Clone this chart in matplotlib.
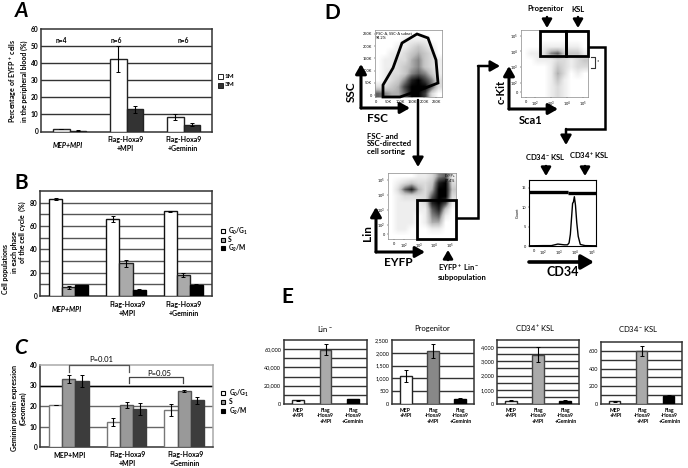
import matplotlib
matplotlib.use('Agg')
import matplotlib.pyplot as plt
from matplotlib.colors import LinearSegmentedColormap
from matplotlib.patches import Polygon, Rectangle

plt.rcParams['font.family'] = ['Lato', 'DejaVu Sans']
plt.rcParams['mathtext.default'] = 'regular'

W, H = 688, 468
groups = ['MEP+MPI', 'Flag-Hoxa9\n+MPI', 'Flag-Hoxa9\n+Geminin']
groups_e = ['MEP\n+MPI', 'Flag\n-Hoxa9\n+MPI', 'Flag\n-Hoxa9\n+Geminin']

# panel A
a_1m = [1.5, 42.5, 8.3]
a_1m_err = [0.2, 7.5, 1.7]
a_3m = [0.5, 13, 4]
a_3m_err = [0.1, 2, 0.7]
a_n = ['n=4', 'n=6', 'n=6']

# panel B
b_g0 = [83, 66, 72.5]
b_g0_err = [1, 2.5, 0.4]
b_s = [7.5, 28, 18]
b_s_err = [1.5, 3, 1.3]
b_g2 = [9.5, 5.5, 9.5]
b_g2_err = [0.1, 0.3, 0.4]

# panel C
c_g0 = [20.5, 12.2, 18.2]
c_g0_err = [0, 2, 3]
c_s = [33, 20.5, 27.5]
c_s_err = [2, 1.3, 0.5]
c_g2 = [32.2, 18.7, 22.7]
c_g2_err = [3, 3, 1.8]

# panel E
lin_vals = [4000, 59500, 5000]
lin_err = [300, 6000, 500]
prog_vals = [1080, 2060, 190]
prog_err = [240, 280, 30]
cd34p_vals = [230, 3480, 200]
cd34p_err = [40, 500, 50]
cd34n_vals = [30, 600, 95]
cd34n_err = [5, 60, 4]

# flow plots, darkness 0-9 (top row first)
fsc_density = [
    [0, 0, 0, 0, 0, 0, 0, 0, 0, 0],
    [0, 0, 0, 0, 1, 1, 1, 1, 0, 0],
    [0, 0, 0, 1, 1, 2, 3, 2, 1, 0],
    [0, 0, 1, 1, 2, 3, 4, 3, 2, 0],
    [0, 1, 1, 2, 2, 4, 5, 3, 2, 1],
    [0, 1, 1, 2, 3, 4, 5, 3, 2, 1],
    [0, 1, 2, 2, 3, 5, 6, 5, 3, 1],
    [0, 1, 2, 3, 5, 8, 9, 7, 5, 2],
    [2, 2, 3, 4, 7, 9, 9, 9, 6, 2],
    [6, 5, 4, 4, 6, 9, 9, 7, 2, 0],
]
lin_density = [
    [0, 0, 0, 0, 1, 1, 2, 5, 6, 1],
    [0, 1, 2, 3, 2, 2, 3, 8, 9, 2],
    [0, 2, 6, 8, 4, 2, 4, 9, 9, 3],
    [0, 1, 2, 2, 2, 2, 6, 9, 9, 2],
    [0, 1, 1, 1, 1, 2, 8, 9, 7, 1],
    [0, 1, 1, 1, 1, 1, 6, 8, 3, 0],
    [0, 1, 1, 1, 0, 1, 5, 6, 1, 0],
    [0, 1, 1, 1, 0, 1, 4, 4, 0, 0],
    [0, 1, 1, 0, 0, 0, 1, 1, 0, 0],
    [0, 0, 0, 0, 0, 0, 0, 0, 0, 0],
]
sca_density = [
    [0, 0, 0, 0, 0, 0, 0, 0, 0, 0],
    [0, 0, 0, 0, 0, 0, 0, 0, 0, 0],
    [0, 0, 0, 1, 1, 1, 1, 1, 1, 0],
    [0, 1, 1, 2, 5, 6, 3, 3, 3, 1],
    [0, 0, 1, 1, 1, 2, 2, 1, 2, 3],
    [0, 0, 0, 0, 1, 3, 2, 1, 2, 2],
    [0, 0, 0, 0, 1, 4, 2, 0, 1, 0],
    [0, 0, 0, 0, 1, 3, 1, 0, 0, 0],
    [0, 0, 0, 0, 1, 2, 1, 0, 0, 0],
    [0, 0, 0, 0, 1, 2, 1, 0, 0, 0],
]
hist_x = [1.1, 2, 2.5, 2.9, 3.1, 3.3, 3.5, 3.6, 3.68, 3.75, 3.82, 3.87, 3.93, 4.0, 4.08, 4.17, 4.3, 4.6, 5.28]
hist_y = [0.05, 0.1, 0.1, 0.5, 0.4, 0.3, 0.3, 0.8, 3, 7, 11, 11.3, 12.7, 10.5, 6, 2.5, 0.4, 0.1, 0.05]
gate_fsc = [(383, 85), (393, 68), (402, 43), (417, 34), (428, 38), (436, 60), (438, 83),
            (420, 90), (400, 97), (383, 97)]

flow_cmap = LinearSegmentedColormap.from_list(
    'flow', [(0, 'white'), (0.15, '#e8e8e8'), (0.4, '#bcbcbc'), (0.7, '#555555'), (1, 'black')])

fig = plt.figure(figsize=(W / 100, H / 100), dpi=100)


def px_axes(x0, y0, x1, y1):
    return fig.add_axes([x0 / W, 1 - y1 / H, (x1 - x0) / W, (y1 - y0) / H])


def bar_panel(box, ymax, step, ticks, ticklabels, series, width, grid='#333333', fs=4.8, weight='bold'):
    ax = px_axes(*box)
    ax.set_axisbelow(True)
    n = len(series)
    for i, (vals, errs, col, edge) in enumerate(series):
        xs = [g + (i - (n - 1) / 2) * width for g in range(3)]
        ax.bar(xs, vals, width, color=col, edgecolor=edge, linewidth=1.0, zorder=3)
        ax.errorbar(xs, vals, yerr=errs, fmt='none', ecolor='black', elinewidth=0.8,
                    capsize=1.3, capthick=0.7, zorder=4)
    y = step
    while y < ymax:
        ax.axhline(y, color=grid, lw=1.0, zorder=1)
        y += step
    ax.set_xlim(-0.5, 2.5)
    ax.set_ylim(0, ymax)
    ax.set_xticks([])
    ax.set_yticks(ticks)
    ax.set_yticklabels(ticklabels, fontsize=fs, fontweight=weight)
    ax.tick_params(axis='y', length=0, pad=2)
    for s in ax.spines.values():
        s.set_linewidth(1.1)
        s.set_color('#333333')
    return ax


A = [(a_1m, a_1m_err, 'white', '#222222'), (a_3m, a_3m_err, '#333333', '#222222')]
ax_a = bar_panel((41, 29, 212, 131.5), 60, 10, range(0, 61, 10), [str(v) for v in range(0, 61, 10)], A, 0.295)
for i, t in enumerate(a_n):
    ax_a.text(i + [-0.15, -0.17, 0][i], 53.5, t, fontsize=4.8, ha='center', va='center', fontweight='bold', zorder=2)

B = [(b_g0, b_g0_err, 'white', '#111111'), (b_s, b_s_err, '#aaaaaa', '#222222'), (b_g2, b_g2_err, 'black', 'black')]
bar_panel((40, 191, 212, 296), 90, 10, range(0, 81, 20), [str(v) for v in range(0, 81, 20)], B, 0.228, grid='#555555')

C = [(c_g0, c_g0_err, 'white', '#777777'), (c_s, c_s_err, '#999999', '#555555'), (c_g2, c_g2_err, '#3c3c3c', '#3c3c3c')]
ax_c = bar_panel((40, 365, 213, 447), 40, 10, range(0, 41, 10), [str(v) for v in range(0, 41, 10)], C, 0.228, grid='#666666')
ax_c.axhline(30, color='black', lw=1.0, zorder=1)
ax_c.spines['top'].set_color('#aaaaaa')
ax_c.spines['right'].set_color('#aaaaaa')

lin_ax = bar_panel((284, 340, 367, 404), 70000, 10000, [0, 20000, 40000, 60000], ['0', '20,000', '40,000', '60,000'],
                   [(lin_vals, lin_err, None, None)], 0.43, fs=4, weight='normal')
prog_ax = bar_panel((392, 340, 474, 404), 2500, 500, range(0, 2501, 500), ['0', '500', '1,000', '1,500', '2,000', '2,500'],
                    [(prog_vals, prog_err, None, None)], 0.43, fs=4, weight='normal')
cdp_ax = bar_panel((497, 340, 579, 404), 4500, 500, range(0, 4001, 1000), ['0', '1,000', '2,000', '3,000', '4,000'],
                   [(cd34p_vals, cd34p_err, None, None)], 0.43, fs=4, weight='normal')
cdn_ax = bar_panel((601, 342, 682, 404), 700, 100, range(0, 601, 200), ['0', '200', '400', '600'],
                   [(cd34n_vals, cd34n_err, None, None)], 0.43, fs=4, weight='normal')
for ax, mid in [(lin_ax, '#aaaaaa'), (prog_ax, '#888888'), (cdp_ax, '#aaaaaa'), (cdn_ax, '#aaaaaa')]:
    bars = ax.containers[0]
    for b, col, ec in zip(bars, ['white', mid, 'black'], ['#222222', '#444444', 'black']):
        b.set_facecolor(col)
        b.set_edgecolor(ec)


def flow_axes(box, dens, ext, xt, xl, yt, yl):
    ax = px_axes(*box)
    ax.imshow(dens, cmap=flow_cmap, vmin=0, vmax=9, extent=ext, aspect='auto', interpolation='bilinear')
    ax.set_xticks(xt)
    ax.set_xticklabels(xl, fontsize=2.8)
    ax.set_yticks(yt)
    ax.set_yticklabels(yl, fontsize=2.8)
    ax.tick_params(length=1, width=0.3, pad=1)
    for s in ax.spines.values():
        s.set_linewidth(0.5)
        s.set_color('#888888')
    return ax


k_t = [0, 50, 100, 150, 200, 250]
k_l = ['0', '50K', '100K', '150K', '200K', '250K']
log_t = [1.4, 2, 3, 4, 5]
log_l = ['0', '$10^2$', '$10^3$', '$10^4$', '$10^5$']
ax_fsc = flow_axes((375, 30, 442, 97), fsc_density, (-3, 273, -7, 265), k_t, k_l, k_t, k_l)
ax_fsc.text(2, 258, 'FSC-A, SSC-A subset\n94.2%', fontsize=2.8, va='top')
ax_lin = flow_axes((388, 173, 456, 239), lin_density, (0.98, 5.41, 1.1, 5.43), log_t, log_l, log_t, log_l)
ax_lin.text(4.65, 5.35, 'EYFP+\n87.4%', fontsize=2.6, va='top')
flow_axes((521, 30, 588, 97), sca_density, (1.08, 5.34, 1.1, 5.37), log_t, log_l, log_t, log_l)

ax_h = px_axes(529, 180, 596, 246)
ax_h.plot(hist_x, hist_y, color='black', lw=1.0)
ax_h.plot([1.1, 3.55], [14, 14], color='black', lw=2.4, solid_capstyle='butt')
ax_h.plot([3.55, 5.28], [13.7, 13.7], color='black', lw=2.4, solid_capstyle='butt')
ax_h.set_xlim(1.1, 5.28)
ax_h.set_ylim(0, 17)
ax_h.set_xticks(log_t)
ax_h.set_xticklabels(log_l, fontsize=2.8)
ax_h.set_yticks([0, 5, 10, 15])
ax_h.set_yticklabels(['0', '5', '10', '15'], fontsize=2.8)
ax_h.set_ylabel('Count', fontsize=2.8, labelpad=1)
ax_h.tick_params(length=1, width=0.3, pad=1)
for s in ax_h.spines.values():
    s.set_linewidth(0.8)

# overlay in pixel coordinates for text, gates and arrows
ov = fig.add_axes([0, 0, 1, 1], zorder=10)
ov.set_xlim(0, W)
ov.set_ylim(H, 0)
ov.axis('off')
ov.patch.set_alpha(0)


def txt(x, y, s, size=4.8, ha='center', va='center', **kw):
    ov.text(x, y, s, fontsize=size, ha=ha, va=va, **kw)


def path(points, lw=2.2, head=4.5, color='black'):
    xs = [p[0] for p in points]
    ys = [p[1] for p in points]
    ov.plot(xs[:-1], ys[:-1], color=color, lw=lw, solid_joinstyle='miter', solid_capstyle='butt')
    x0, y0 = points[-2]
    x1, y1 = points[-1]
    ov.annotate('', xy=(x1, y1), xytext=(x0, y0),
                arrowprops=dict(arrowstyle='-|>,head_length=%.2f,head_width=%.2f' % (head / 8, head / 14),
                                color=color, lw=lw, shrinkA=0, shrinkB=0, mutation_scale=10))


for x, y, s, style in [(22, 11, 'A', 'italic'), (21, 183, 'B', 'normal'), (21, 348, 'C', 'italic'),
                       (332, 13, 'D', 'normal'), (287, 297, 'E', 'normal')]:
    txt(x, y, s, size=15, fontweight='bold', style=style)

# group labels
txt(68, 145, groups[0], size=5, fontweight='bold', style='italic')
txt(125, 144, groups[1], size=5, fontweight='bold')
txt(183, 144, groups[2], size=5, fontweight='bold')
txt(67, 310, groups[0], size=5, fontweight='bold', style='italic')
txt(127, 309, groups[1], size=5, fontweight='bold')
txt(184, 309, groups[2], size=5, fontweight='bold')
txt(70, 456, groups[0], size=5, fontweight='bold')
txt(127, 459, groups[1], size=5, fontweight='bold')
txt(185, 459, groups[2], size=5, fontweight='bold')

# y labels
txt(18, 81, 'Percentage of EYFP$^+$ cells\nin the peripheral blood (%)', size=5, rotation=90, fontweight='bold')
txt(6, 269, 'Cell populations', size=5, rotation=90, fontweight='bold')
txt(14, 252, 'in each phase', size=5, rotation=90, fontweight='bold')
txt(22, 232, 'of the cell cycle  (%)', size=5, rotation=90, fontweight='bold')
txt(19, 408, 'Geminin protein expression\n(Geomean)', size=5, rotation=90, fontweight='bold')

# legends
for y, col, lab in [(76, 'white', '1M'), (85, '#333333', '3M')]:
    ov.add_patch(Rectangle((217.5, y - 2.5), 5, 5, fc=col, ec='#222222', lw=0.7))
    txt(225, y, lab, size=4.6, ha='left', fontweight='bold')
phases = ['$G_0/G_1$', 'S', '$G_2/M$']
for y, col, lab in zip([231, 240, 248], ['white', '#aaaaaa', 'black'], phases):
    ov.add_patch(Rectangle((221, y - 2), 3.5, 4, fc=col, ec='black', lw=0.8))
    txt(228, y, lab, size=4.8, ha='left', fontweight='bold')
for y, col, lab in zip([393, 402, 411], ['white', '#999999', 'black'], phases):
    ov.add_patch(Rectangle((221, y - 2), 3.5, 4, fc=col, ec='black', lw=0.8))
    txt(229, y, lab, size=4.8, ha='left', fontweight='bold')

# significance brackets
ov.plot([69, 69, 129, 129], [372, 365, 365, 372], color='#555555', lw=0.9)
ov.plot([129, 129, 183, 183], [383, 377, 377, 383], color='#444444', lw=0.9)
txt(101, 359, 'P=0.01', size=5.5)
txt(159, 373, 'P=0.05', size=5.5)

# panel E
for cx, t in [(325, 'Lin$^-$'), (432, 'Progenitor'), (535, 'CD34$^+$KSL'), (638, 'CD34$^-$KSL')]:
    txt(cx, 329, t, size=5.5)
for x0, sp in [(298, 27.5), (405.5, 27.5), (511, 27.3), (615.5, 27)]:
    for i, lab in enumerate(groups_e):
        txt(x0 + i * sp, 408, lab, size=3.7, va='top', fontweight='bold', linespacing=1.1)

# panel D text
txt(378, 118, 'FSC', size=8.5, fontweight='bold')
txt(351, 92, 'SSC', size=8.5, rotation=90, fontweight='bold')
txt(367, 144, 'FSC- and\nSSC-directed\ncell sorting', size=5.6, ha='left', fontweight='bold', linespacing=1.15)
txt(367, 233, 'Lin', size=8.5, rotation=90, fontweight='bold')
txt(398, 262, 'EYFP', size=8.5, fontweight='bold')
txt(438, 272, 'EYFP$^+$ Lin$^-$\nsubpopulation', size=5.5, ha='left', fontweight='bold', linespacing=1.2)
txt(546, 9, 'Progenitor', size=5.5, fontweight='bold')
txt(578, 9, 'KSL', size=5.5, fontweight='bold')
txt(501, 92, 'c-Kit', size=8, rotation=90, fontweight='bold')
txt(531, 120, 'Sca1', size=8, fontweight='bold')
txt(545, 157, 'CD34$^-$KSL', size=5.5, fontweight='bold')
txt(589, 156, 'CD34$^+$KSL', size=5.5, fontweight='bold')
txt(563, 272, 'CD34', size=9, fontweight='bold')

# gates
ov.add_patch(Polygon(gate_fsc, closed=True, fc='none', ec='black', lw=2))
ov.add_patch(Rectangle((417, 200), 39, 39, fc='none', ec='black', lw=2))
ov.add_patch(Rectangle((540, 31), 26, 25, fc='none', ec='black', lw=2))
ov.add_patch(Rectangle((566, 31), 22, 25, fc='none', ec='black', lw=2))
ov.plot([591, 595, 595, 591], [57, 57, 68, 68], color='#333333', lw=0.8)
txt(597.5, 62, '*', size=4)

# axis arrows
path([(361, 108), (361, 64)])
path([(361, 108), (410, 108)])
path([(376, 252), (376, 207)])
path([(376, 252), (425, 252)])
path([(509, 109), (509, 66)])
path([(509, 109), (558, 109)])
path([(529, 262), (594, 262)], lw=2.6, head=6)
# flow arrows
path([(418, 100), (418, 167)], lw=1.8)
path([(456, 218), (478, 218), (478, 66), (500, 66)], lw=1.8)
path([(588, 47), (605, 47), (605, 129), (566, 129), (566, 145)], lw=1.8)
# short arrows
for x, y0, y1 in [(547, 17, 28), (578, 17, 28), (546, 166, 176), (585, 166, 176), (448, 260, 250)]:
    path([(x, y0), (x, y1)], lw=1.8, head=4)

fig.savefig('out.png', dpi=100)
